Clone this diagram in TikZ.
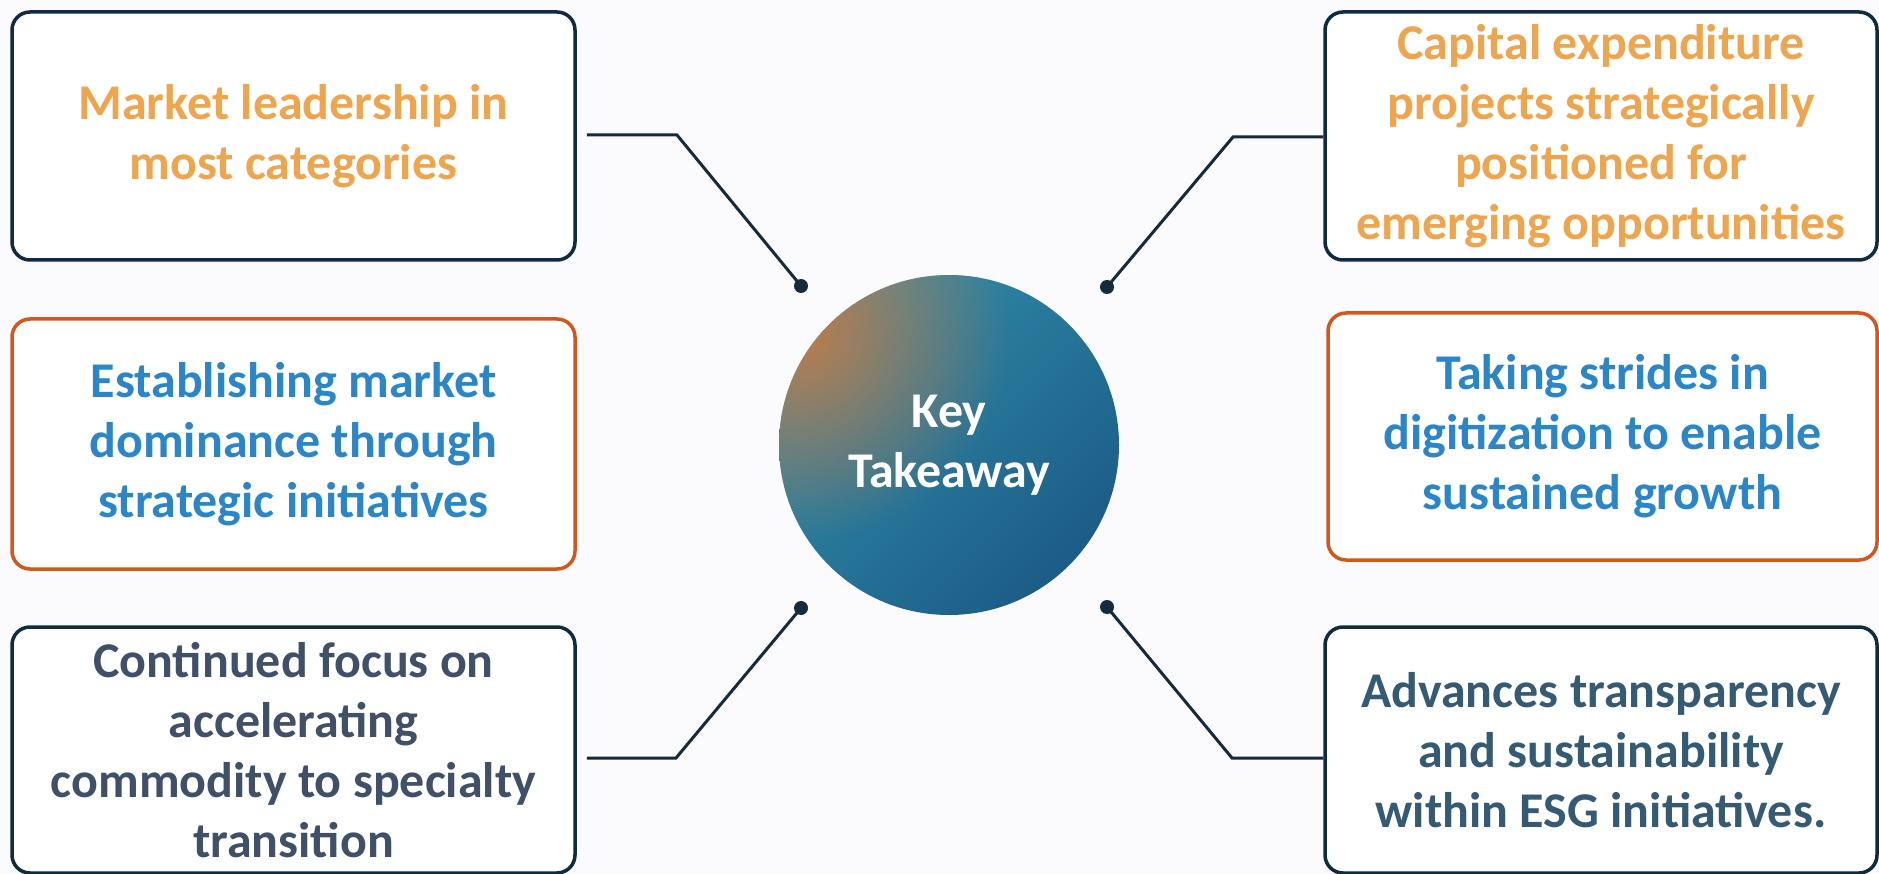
\documentclass[tikz,border=0pt]{standalone}
\usepackage{fontspec}
\setmainfont{Carlito}
\usetikzlibrary{fadings}
\definecolor{navy}{HTML}{0F2B40}
\definecolor{orangeB}{HTML}{D4561C}
\definecolor{lineC}{HTML}{152A3B}
\definecolor{txtOrange}{HTML}{EEA54D}
\definecolor{txtBlue}{HTML}{2A86C8}
\definecolor{txtSlate}{HTML}{3F5068}
\definecolor{txtSteel}{HTML}{355A74}
\definecolor{tealA}{HTML}{2F8DA9}
\definecolor{tealB}{HTML}{1C5C86}
\definecolor{glowC}{HTML}{C77A45}
\definecolor{bgC}{HTML}{FBFBFD}
\tikzfading[name=glowfade, inner color=transparent!0, outer color=transparent!100]
\tikzset{
  box/.style={draw=navy, line width=3.5pt, rounded corners=18pt, fill=white,
    align=center, font=\fontsize{50}{60}\selectfont\bfseries, inner sep=0pt},
  obox/.style={box, draw=orangeB},
  conn/.style={draw=lineC, line width=3pt},
  dot/.style={circle, fill=lineC, minimum size=14pt, inner sep=0pt},
}
\begin{document}
\begin{tikzpicture}[x=1pt,y=-1pt]
\useasboundingbox (0,0) rectangle (1879,874);
\fill[bgC] (0,0) rectangle (1879,874);

% central circle
\begin{scope}
  \clip (949,445) circle (170);
  \shade[top color=tealA, bottom color=tealB, shading angle=45] (779,275) rectangle (1119,615);
  \fill[glowC, path fading=glowfade, fill opacity=0.95] (800,330) circle (210);
\end{scope}
\node[circle, minimum size=340pt, inner sep=0pt, align=center, text=white,
  font=\fontsize{50}{60}\selectfont\bfseries] (hub) at (949,445) {Key\\Takeaway};

% dots and elbows
\node[dot] (d1) at (801,286) {};
\node[dot] (d3) at (801,608) {};
\node[dot] (d4) at (1107,287) {};
\node[dot] (d6) at (1107,607) {};
\coordinate (e1) at (677,135);
\coordinate (e3) at (676,758);
\coordinate (e4) at (1233,137);
\coordinate (e6) at (1232,758);

% boxes
\node[box, minimum width=563pt, minimum height=248pt, text=txtOrange] (b1) at (293.5,136)
  {Market leadership in\\most categories};
\node[obox, minimum width=563pt, minimum height=250pt, text=txtBlue] (b2) at (293.5,444)
  {Establishing market\\dominance through\\strategic initiatives};
\node[box, minimum width=563pt, minimum height=246pt, text=txtSlate] (b3) at (293.5,750)
  {Continued focus on\\accelerating\\commodity to specialty\\transition};
\node[box, minimum width=552pt, minimum height=248pt, text=txtOrange] (b4) at (1601,136)
  {Capital expenditure\\projects strategically\\positioned for\\emerging opportunities};
\node[obox, minimum width=549pt, minimum height=247pt, text=txtBlue] (b5) at (1602.5,436.5)
  {Taking strides in\\digitization to enable\\sustained growth};
\node[box, minimum width=552pt, minimum height=246pt, text=txtSteel] (b6) at (1601,750)
  {Advances transparency\\and sustainability\\within ESG initiatives.};

% connectors
\draw[conn] (b1.east |- e1) ++(10,0) -- (e1) -- (d1.center);
\draw[conn] (b3.east |- e3) ++(10,0) -- (e3) -- (d3.center);
\draw[conn] (b4.west |- e4) -- (e4) -- (d4.center);
\draw[conn] (b6.west |- e6) -- (e6) -- (d6.center);
\end{tikzpicture}
\end{document}
